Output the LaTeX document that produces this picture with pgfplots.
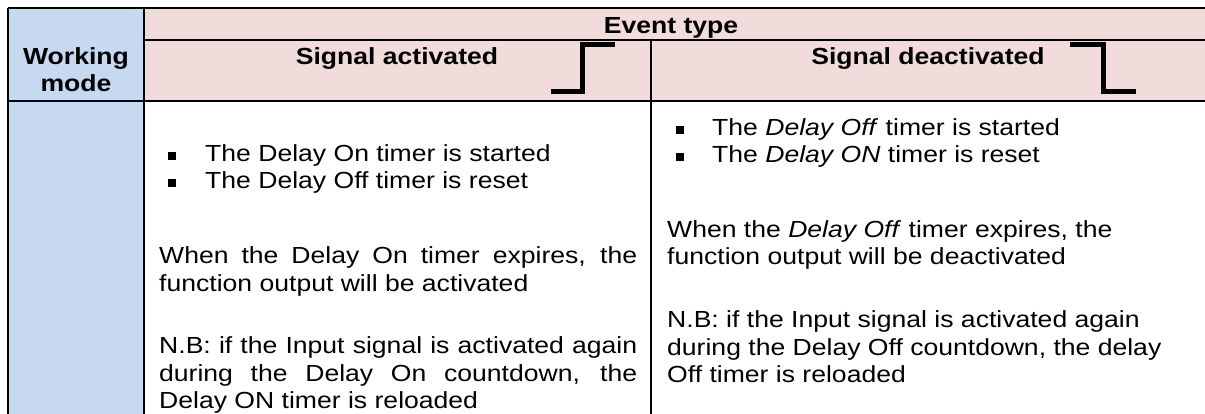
\documentclass[border=0pt]{standalone}
\usepackage{pgfplots}
\pgfplotsset{compat=1.18}
\usepackage{fontspec}
\setmainfont{Liberation Sans}[FakeStretch=1.14]
\definecolor{hdrpink}{HTML}{F2DCDB}
\definecolor{wmblue}{HTML}{C6D9F1}
\newcommand{\bsq}{\raisebox{2pt}{\rule{8pt}{8pt}}}
\tikzset{tx/.style={anchor=base west,inner sep=0pt,font=\fontsize{23.3}{26.8}\selectfont},
         hd/.style={anchor=base,inner sep=0pt,font=\fontsize{23.3}{26.8}\selectfont\bfseries}}
\begin{document}
\begin{tikzpicture}
\begin{axis}[width=1205pt,height=414pt,scale only axis,
  xmin=0,xmax=1205,ymin=0,ymax=414,y dir=reverse,
  hide axis,clip=false]
% cell fills
\addplot[draw=none,fill=wmblue] coordinates {(8,8) (144,8) (144,414) (8,414) (8,8)};
\addplot[draw=none,fill=hdrpink] coordinates {(144,8) (1205,8) (1205,101) (144,101) (144,8)};
% borders
\addplot[black,line width=1.6pt] coordinates {(8,8) (1205,8)};
\addplot[black,line width=1.6pt] coordinates {(144,40) (1205,40)};
\addplot[black,line width=1.6pt] coordinates {(8,101) (1205,101)};
\addplot[black,line width=1.6pt] coordinates {(8,8) (8,414)};
\addplot[black,line width=1.6pt] coordinates {(144,8) (144,414)};
\addplot[black,line width=1.6pt] coordinates {(651,40) (651,414)};
% signal edge icons
\addplot[black,line width=5pt,line join=miter] coordinates {(551,92) (582,92) (582,45) (615,45)};
\addplot[black,line width=5pt,line join=miter] coordinates {(1070,45) (1103,45) (1103,92) (1136,92)};
% header texts
\node[hd] at (axis cs:671,34) {Event type};
\node[hd] at (axis cs:397,65) {Signal activated};
\node[hd] at (axis cs:928,65) {Signal deactivated};
\node[hd] at (axis cs:76,65) {Working};
\node[hd] at (axis cs:76,92) {mode};
% left column
\node[tx] at (axis cs:168,162) {\bsq};
\node[tx] at (axis cs:205,162) {The Delay On timer is started};
\node[tx] at (axis cs:168,189) {\bsq};
\node[tx] at (axis cs:205,189) {The Delay Off timer is reset};
\node[tx] at (axis cs:159,264) {\makebox[478pt][s]{When the Delay On timer expires, the}};
\node[tx] at (axis cs:159,291) {function output will be activated};
\node[tx] at (axis cs:159,353) {\makebox[478pt][s]{N.B: if the Input signal is activated again}};
\node[tx] at (axis cs:159,381) {\makebox[478pt][s]{during the Delay On countdown, the}};
\node[tx] at (axis cs:159,408) {Delay ON timer is reloaded};
% right column
\node[tx] at (axis cs:676,136) {\bsq};
\node[tx] at (axis cs:712,136) {The \textit{Delay Off} timer is started};
\node[tx] at (axis cs:676,163) {\bsq};
\node[tx] at (axis cs:712,163) {The \textit{Delay ON} timer is reset};
\node[tx] at (axis cs:667,238) {When the \textit{Delay Off} timer expires, the};
\node[tx] at (axis cs:667,265) {function output will be deactivated};
\node[tx] at (axis cs:667,327) {N.B: if the Input signal is activated again};
\node[tx] at (axis cs:667,355) {during the Delay Off countdown, the delay};
\node[tx] at (axis cs:667,382) {Off timer is reloaded};
\end{axis}
\pgfresetboundingbox
\useasboundingbox (0,0) rectangle (1205pt,414pt);
\end{tikzpicture}
\end{document}
